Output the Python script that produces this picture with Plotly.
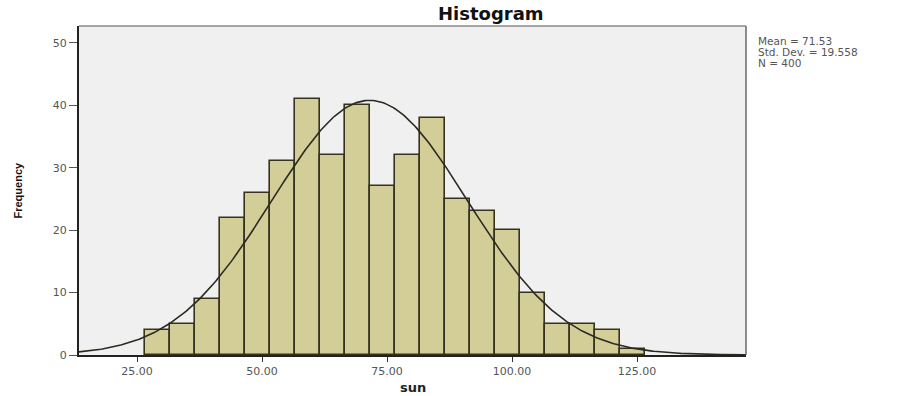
import numpy as np
import plotly.graph_objects as go

# ---- data ----
BIN_START = 26.5
BIN_WIDTH = 5.0
COUNTS = [4, 5, 9, 22, 26, 31, 41, 32, 40, 27, 32, 38, 25, 23, 20, 10, 5, 5, 4, 1]
MEAN = 71.53
STD_DEV = 19.558
N = 400
X_TICKS = [25, 50, 75, 100, 125]
X_TICK_LABELS = ["25.00", "50.00", "75.00", "100.00", "125.00"]
Y_TICKS = [0, 10, 20, 30, 40, 50]
Y_TICK_LABELS = ["0", "10", "20", "30", "40", "50"]
X_RANGE = [13.4, 146.8]
Y_RANGE = [0, 52.7]

centers = [BIN_START + BIN_WIDTH * (i + 0.5) for i in range(len(COUNTS))]

# normal curve defined by the reported mean / std. dev. / N
curve_x = np.linspace(X_RANGE[0], X_RANGE[1], 400)
curve_y = N * BIN_WIDTH / (STD_DEV * np.sqrt(2 * np.pi)) * np.exp(-0.5 * ((curve_x - MEAN) / STD_DEV) ** 2)

fig = go.Figure()
fig.add_trace(go.Bar(
    x=centers, y=COUNTS, width=BIN_WIDTH,
    marker=dict(color="#D3CE97", line=dict(color="#35321f", width=1.6)),
    showlegend=False, hoverinfo="skip",
))
fig.add_trace(go.Scatter(
    x=curve_x, y=curve_y, mode="lines",
    line=dict(color="#2a2a22", width=1.6), showlegend=False, hoverinfo="skip",
))

tick_font = dict(family="DejaVu Sans", size=11, color="#555555")
fig.update_layout(
    width=904, height=396,
    margin=dict(l=79, r=158, t=26, b=41),
    paper_bgcolor="white", plot_bgcolor="#F0F0F0",
    bargap=0,
    xaxis=dict(range=X_RANGE, tickmode="array", tickvals=X_TICKS, ticktext=X_TICK_LABELS,
               ticks="outside", ticklen=5, tickcolor="#333", showgrid=False, zeroline=False,
               showline=True, linecolor="#222", linewidth=2, tickfont=tick_font),
    yaxis=dict(range=Y_RANGE, tickmode="array", tickvals=Y_TICKS, ticktext=Y_TICK_LABELS,
               ticks="outside", ticklen=8, tickcolor="#555", showgrid=False, zeroline=False,
               showline=True, linecolor="#222", linewidth=2, tickfont=tick_font),
    shapes=[
        dict(type="line", xref="paper", yref="paper", x0=0, x1=1, y0=1, y1=1,
             line=dict(color="#8a8a8a", width=1.5)),
        dict(type="line", xref="paper", yref="paper", x0=1, x1=1, y0=0, y1=1,
             line=dict(color="#6a6a6a", width=1.5)),
    ],
)

# title, axis titles, statistics box
fig.add_annotation(text="<b>Histogram</b>", xref="paper", yref="paper",
                   x=(491 - 79) / (746 - 79), y=1, yanchor="bottom", yshift=0,
                   showarrow=False, font=dict(family="DejaVu Sans", size=18, color="#111"))
fig.add_annotation(text="<b>sun</b>", xref="paper", yref="paper",
                   x=0.5, y=0, yanchor="middle", yshift=-32,
                   showarrow=False, font=dict(family="DejaVu Sans", size=13, color="#222"))
fig.add_annotation(text="<b>Frequency</b>", xref="paper", yref="paper",
                   x=0, xanchor="center", xshift=-62, y=0.5, textangle=-90,
                   showarrow=False, font=dict(family="Liberation Sans", size=11, color="#111"))
stats = [f"Mean = {MEAN}", f"Std. Dev. = {STD_DEV}", f"N = {N}"]
for i, s in enumerate(stats):
    fig.add_annotation(text=s, xref="paper", yref="paper", x=1, xanchor="left", xshift=10,
                       y=1, yanchor="middle", yshift=-15 - 11 * i,
                       showarrow=False, font=dict(family="DejaVu Sans", size=10.5, color="#555"))

fig.write_html("out.html", config={"displayModeBar": False},
               post_script="document.body.style.margin='0';")
